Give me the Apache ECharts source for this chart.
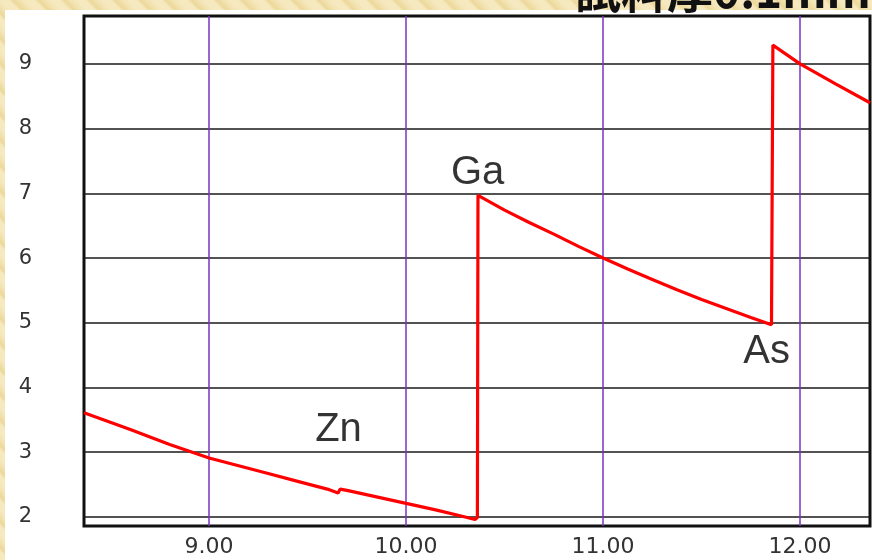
<!DOCTYPE html>
<html><head><meta charset="utf-8">
<script src="https://cdn.jsdelivr.net/npm/echarts@6/dist/echarts.min.js"></script>
<style>
html,body{margin:0;padding:0;width:872px;height:560px;overflow:hidden;}
body{background:#f0dea6;background-image:repeating-linear-gradient(45deg,#f6e9c0 0px,#f6e9c0 6px,#ecd89a 9px,#f3e3b2 14px,#f6e9c0 18px),repeating-linear-gradient(-45deg,rgba(255,255,255,0.25) 0px,rgba(255,255,255,0) 10px,rgba(200,170,90,0.15) 20px);}
#panel{position:absolute;left:5px;top:10px;right:0;bottom:0;background:#fff;}
#chart{position:absolute;left:0;top:0;width:872px;height:560px;}
</style></head>
<body>
<div id="panel"></div>
<div id="chart"></div>
<script>
// Absorption curve (energy keV, value)
const segZn = [[8.365,3.61],[8.60,3.35],[8.80,3.12],[9.00,2.91],[9.15,2.79],[9.30,2.67],[9.45,2.55],[9.60,2.43],[9.655,2.37],[9.665,2.43],[9.70,2.41],[9.85,2.31],[10.00,2.21],[10.15,2.11],[10.30,2.00],[10.35,1.96],[10.362,1.99]];
const segGa = [[10.365,6.97],[10.50,6.74],[10.625,6.55],[10.75,6.37],[10.875,6.18],[11.00,6.00],[11.125,5.83],[11.25,5.67],[11.375,5.51],[11.50,5.36],[11.625,5.22],[11.75,5.08],[11.855,4.97]];
const segAs = [[11.862,9.29],[12.00,9.00],[12.18,8.69],[12.355,8.40]];
const curve = segZn.concat(segGa, segAs);
const annotations = [['Zn',9.657,3.35],['Ga',10.363,7.31],['As',11.83,4.55]];
const titleText = '試料厚0.1mm';
const xRange = [8.365, 12.355];
const yRange = [1.86, 9.74];

const chart = echarts.init(document.getElementById('chart'), null, {renderer:'canvas'});
chart.setOption({
  backgroundColor:'transparent',
  animation:false,
  grid:{left:84, right:2, top:16, bottom:34, show:true, borderColor:'#111', borderWidth:3, backgroundColor:'transparent'},
  xAxis:{type:'value', min:xRange[0], max:xRange[1], minInterval:1, maxInterval:1,
    axisLine:{show:false}, axisTick:{show:false},
    splitLine:{show:true, showMinLine:false, showMaxLine:false, lineStyle:{color:'#7a33c0', width:1.5}},
    axisLabel:{showMinLabel:false, showMaxLabel:false, margin:10, color:'#333', fontFamily:'DejaVu Sans', fontSize:22,
      formatter:v=>v.toFixed(2)}},
  yAxis:{type:'value', min:yRange[0], max:yRange[1], minInterval:1, maxInterval:1,
    axisLine:{show:false}, axisTick:{show:false},
    splitLine:{show:true, showMinLine:false, showMaxLine:false, lineStyle:{color:'#1a1a1a', width:1.5}},
    axisLabel:{showMinLabel:false, showMaxLabel:false, margin:52, color:'#333', fontFamily:'DejaVu Sans', fontSize:21}},
  graphic:[{type:'text', left:575, top:-32, z:10,
    style:{text:titleText, font:'bold 46px "Noto Sans CJK JP"', fill:'#111'}}],
  series:[
    {type:'line', data:curve, showSymbol:false, symbol:'none', lineStyle:{color:'#ff0000', width:3.2}, z:3},
    {type:'scatter', data:annotations.map(a=>({value:[a[1],a[2]], name:a[0]})), symbolSize:0, z:4,
      label:{show:true, position:'inside', formatter:p=>p.name, color:'#000', fontFamily:'Liberation Sans', fontSize:40}}
  ]
});
</script>
</body></html>
